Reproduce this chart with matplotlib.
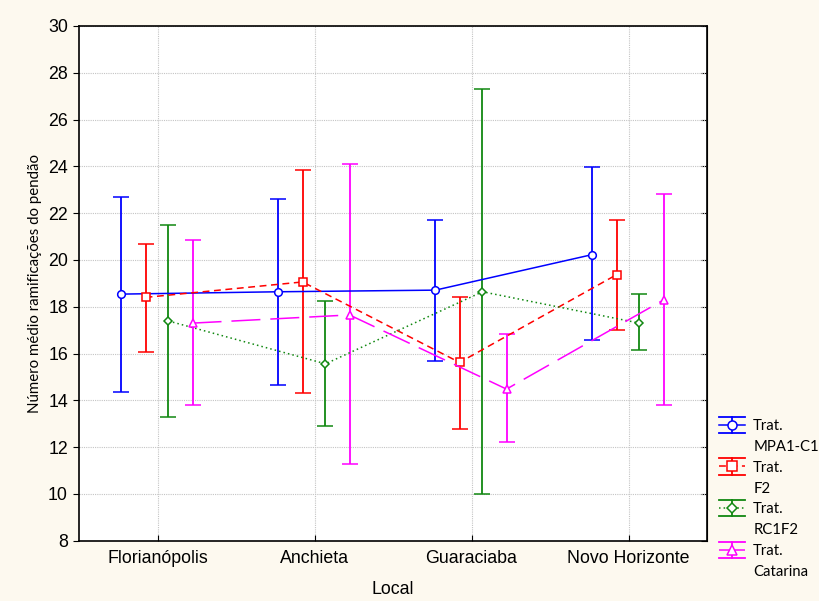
import matplotlib.pyplot as plt
import numpy as np
from matplotlib.legend_handler import HandlerBase
from matplotlib.lines import Line2D

locais = ["Florianópolis", "Anchieta", "Guaraciaba", "Novo Horizonte"]
tratamentos = ["MPA1-C1", "F2", "RC1F2", "Catarina"]

# médias e limites (inferior, superior) por tratamento
media_mpa = [18.54, 18.64, 18.71, 20.23]
inf_mpa = [14.36, 14.66, 15.70, 16.56]
sup_mpa = [22.71, 22.62, 21.71, 23.96]

media_f2 = [18.40, 19.06, 15.62, 19.37]
inf_f2 = [16.06, 14.32, 12.78, 17.02]
sup_f2 = [20.70, 23.83, 18.43, 21.71]

media_rc = [17.39, 15.56, 18.64, 17.30]
inf_rc = [13.28, 12.91, 10.01, 16.13]
sup_rc = [21.51, 18.26, 27.29, 18.53]

media_cat = [17.30, 17.65, 14.48, 18.29]
inf_cat = [13.78, 11.28, 12.21, 13.82]
sup_cat = [20.87, 24.11, 16.82, 22.84]

medias = [media_mpa, media_f2, media_rc, media_cat]
inferiores = [inf_mpa, inf_f2, inf_rc, inf_cat]
superiores = [sup_mpa, sup_f2, sup_rc, sup_cat]

cores = ["#0000ff", "#ff0000", "#118811", "#ff00ff"]
marcadores = ["o", "s", "D", "^"]
tamanhos = [5.5, 6, 4.2, 6.2]
estilos = ["-", (0, (4.5, 3)), (0, (1, 2)), (0, (19, 6.5))]
deslocamentos = [-0.23, -0.076, 0.07, 0.223]


class HandlerTrat(HandlerBase):
    # linha + marcador com barra de erro e tampas largas
    def create_artists(self, legend, orig_handle, xdescent, ydescent,
                       width, height, fontsize, trans):
        cor = orig_handle.get_color()
        x0, x1 = -xdescent, -xdescent + width
        xm = (x0 + x1) / 2
        cy = height / 2 - ydescent
        h = 5.8
        partes = [Line2D([x0, x1], [cy + h, cy + h], color=cor, lw=1.3),
                  Line2D([x0, x1], [cy - h, cy - h], color=cor, lw=1.3),
                  Line2D([xm, xm], [cy - h, cy + h], color=cor, lw=1.3)]
        linha = Line2D([x0, x1], [cy, cy])
        linha.update_from(orig_handle)
        linha.set_marker("None")
        marca = Line2D([xm], [cy])
        marca.update_from(orig_handle)
        marca.set_linestyle("None")
        partes += [linha, marca]
        for p in partes:
            p.set_transform(trans)
        return partes


fundo = "#fdf9ef"
plt.rcParams["font.family"] = ["Liberation Sans", "DejaVu Sans"]

fig = plt.figure(figsize=(8.19, 6.01), dpi=100, facecolor=fundo)
ax = fig.add_axes([79 / 819, 1 - 540.7 / 601, 628 / 819, 514.7 / 601])
ax.set_facecolor("white")

x = np.arange(len(locais))
proxies = []
for i in range(4):
    m = np.array(medias[i])
    lo = m - np.array(inferiores[i])
    hi = np.array(superiores[i]) - m
    ax.errorbar(x + deslocamentos[i], m, yerr=[lo, hi], color=cores[i],
                linestyle=estilos[i], linewidth=1.1, marker=marcadores[i],
                markersize=tamanhos[i], markerfacecolor="white",
                markeredgecolor=cores[i], markeredgewidth=1.1,
                elinewidth=1.3, capsize=5.5, capthick=1.3, zorder=3)
    proxies.append(Line2D([], [], color=cores[i], linestyle=estilos[i],
                          linewidth=1.1, marker=marcadores[i],
                          markersize=tamanhos[i] + 1, markerfacecolor="white",
                          markeredgecolor=cores[i], markeredgewidth=1.1))

ax.set_xlim(-0.5, 3.5)
ax.set_ylim(8, 30)
ax.set_yticks(np.arange(8, 31, 2))
ax.set_xticks(x)
ax.set_xticklabels(locais)
ax.grid(True, color="#c4c4c4", linestyle=(0, (1, 1)), linewidth=0.8, zorder=0)
ax.tick_params(axis="y", direction="out", length=4, labelsize=12.8, pad=4)
ax.tick_params(axis="x", direction="in", length=4, labelsize=12.8, pad=7)
for s in ax.spines.values():
    s.set_linewidth(1.2)

# ticks do eixo direito para dentro
ax2 = ax.secondary_yaxis("right")
ax2.set_yticks(np.arange(8, 31, 2))
ax2.tick_params(direction="in", length=4, labelright=False)

ax.set_xlabel("Local", fontsize=12.8, labelpad=10)
ax.set_ylabel("Número médio ramificações do pendão", fontsize=10.8,
              family=["Lato", "DejaVu Sans"], labelpad=4)

# legenda: "Trat." na linha do símbolo, nome na linha de baixo
handles, labels, mapa = [], [], {}
for p, nome in zip(proxies, tratamentos):
    vazio = Line2D([], [], linestyle="None")
    handles += [p, vazio]
    labels += ["Trat.", nome]
    mapa[p] = HandlerTrat()

fig.legend(handles, labels, handler_map=mapa, loc="upper left",
           bbox_to_anchor=(719 / 819, 1 - 419 / 601), frameon=False,
           prop={"family": ["Lato", "DejaVu Sans"], "size": 10.7},
           handlelength=1.75, handleheight=0.7, handletextpad=0.55,
           labelspacing=0.46, borderpad=0, borderaxespad=0)

fig.savefig("out.png", dpi=100, facecolor=fundo)
